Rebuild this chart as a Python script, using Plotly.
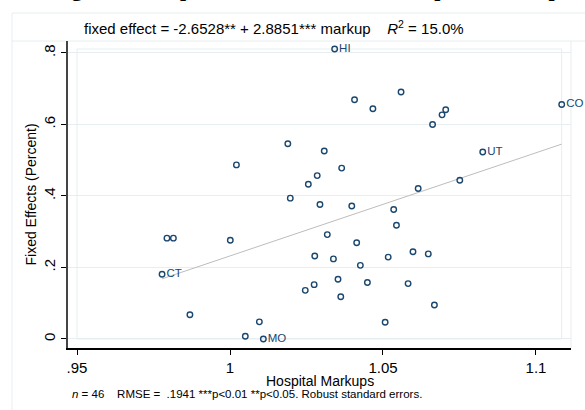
#%%

import plotly.graph_objects as go

navy = "#1a476f"
grid = "#e6eef1"
font = "Liberation Sans, Arial"

# hospital markup (x) vs state fixed effect (y)
markup = [1.0342, 1.0407, 1.0467, 1.0559, 1.0662, 1.0693, 1.0705, 1.1084, 1.0826, 1.0308,
          1.0365, 1.0285, 1.0256, 1.0189, 1.0021, 1.0615, 1.0751, 1.0197, 1.0294, 0.9794,
          0.9815, 1.0001, 0.9778, 1.0277, 1.0275, 1.0246, 0.9869, 1.0096, 1.0050, 1.0109,
          1.0398, 1.0535, 1.0544, 1.0318, 1.0414, 1.0338, 1.0426, 1.0517, 1.0598, 1.0648,
          1.0353, 1.0449, 1.0582, 1.0362, 1.0668, 1.0507]
fixed_effect = [0.811, 0.669, 0.644, 0.691, 0.600, 0.627, 0.641, 0.656, 0.523, 0.526,
                0.478, 0.457, 0.433, 0.546, 0.487, 0.421, 0.444, 0.394, 0.376, 0.282,
                0.282, 0.276, 0.181, 0.232, 0.152, 0.136, 0.068, 0.048, 0.0075, 0.0,
                0.372, 0.362, 0.318, 0.292, 0.269, 0.224, 0.206, 0.229, 0.244, 0.238,
                0.167, 0.158, 0.155, 0.118, 0.095, 0.047]
state = ["HI", "", "", "", "", "", "", "CO", "UT", "",
         "", "", "", "", "", "", "", "", "", "",
         "", "", "CT", "", "", "", "", "", "", "MO",
         "", "", "", "", "", "", "", "", "", "",
         "", "", "", "", "", ""]

intercept = -2.6528
slope = 2.8851

x_ticks = [0.95, 1.0, 1.05, 1.1]
x_ticktext = [".95", "1", "1.05", "1.1"]
y_ticks = [0, 0.2, 0.4, 0.6, 0.8]
y_ticktext = ["0", ".2", ".4", ".6", ".8"]

#%%
fig = go.Figure()

fit_x = [min(markup), max(markup)]
fig.add_scatter(x=fit_x, y=[intercept + slope * v for v in fit_x], mode="lines",
                line=dict(color="#bdbdbd", width=1), hoverinfo="skip")
fig.add_scatter(x=markup, y=fixed_effect, text=state, mode="markers+text",
                textposition="middle right", cliponaxis=False,
                textfont=dict(family=font, size=11.5, color=navy),
                marker=dict(symbol="circle-open", size=5.5, color=navy, line=dict(width=1.4)))

sp = "\u00a0"
fig.update_layout(
    width=585,
    height=410,
    showlegend=False,
    plot_bgcolor="white",
    paper_bgcolor="white",
    font=dict(family=font, color="black"),
    margin=dict(l=68, r=14, t=41, b=62),
    shapes=[
        # graph region and title box
        dict(type="rect", xref="paper", yref="paper", x0=-0.1113, x1=1.2, y0=-0.3, y1=1.0912,
             line=dict(color=grid, width=1), layer="below"),
        dict(type="line", xref="paper", yref="paper", x0=-0.1113, x1=1.2, y0=1, y1=1,
             line=dict(color=grid, width=1), layer="below"),
        dict(type="line", xref="paper", yref="paper", x0=1, x1=1, y0=0, y1=1,
             line=dict(color=grid, width=1), layer="below"),
        # inner plot region
        dict(type="rect", xref="x", yref="y", x0=x_ticks[0], x1=max(markup),
             y0=y_ticks[0], y1=max(fixed_effect), line=dict(color=grid, width=1), layer="below"),
    ],
    annotations=[
        # heading of the page, mostly cut off by the top edge
        dict(text="<b>Figure 3: Hospital Fixed Effects and Hospital Markups</b>", xref="paper", yref="paper",
             x=-0.035, y=1.125, xanchor="left", yanchor="bottom", showarrow=False,
             font=dict(family="Liberation Serif", size=22, color="black")),
        dict(text=f"fixed effect = -2.6528** + 2.8851*** markup{sp*4}<i>R</i><sup>2</sup> = 15.0%",
             xref="paper", yref="paper", x=0.028, y=1.0456, xanchor="left", yanchor="middle",
             showarrow=False, font=dict(size=15)),
        dict(text="Hospital Markups", xref="paper", yref="paper", x=0.5, y=-0.1075,
             xanchor="center", yanchor="middle", showarrow=False, font=dict(size=14)),
        dict(text="Fixed Effects (Percent)", xref="paper", yref="paper", x=-0.0755, y=0.5,
             xanchor="center", yanchor="middle", textangle=-90, showarrow=False, font=dict(size=14)),
        dict(text=f"<i>n</i> = 46{sp*4}RMSE = {sp}.1941 ***p<0.01 **p<0.05. Robust standard errors.",
             xref="paper", yref="paper", x=0.004, y=-0.15, xanchor="left", yanchor="middle",
             showarrow=False, font=dict(size=11.5)),
    ],
)
fig.update_xaxes(range=[0.94706, 1.11144], tickvals=x_ticks, ticktext=x_ticktext, automargin=False,
                 showgrid=False, zeroline=False, showline=True, linecolor="black", linewidth=1.5,
                 ticks="outside", ticklen=5, tickcolor="black", tickfont=dict(size=15))
fig.update_yaxes(range=[-0.0252, 0.8335], tickvals=y_ticks, ticktext=y_ticktext, automargin=False,
                 showgrid=True, gridcolor=grid, gridwidth=1, zeroline=False,
                 showline=True, linecolor="#444", linewidth=1.5,
                 ticks="outside", ticklen=5, tickcolor="black", tickangle=-90, tickfont=dict(size=15))

# page has a default 8px body margin; drop it so the figure sits at the window's corner
fig.write_html("out.html", config={"displayModeBar": False},
               post_script="document.body.style.margin = '0';")

# %%
